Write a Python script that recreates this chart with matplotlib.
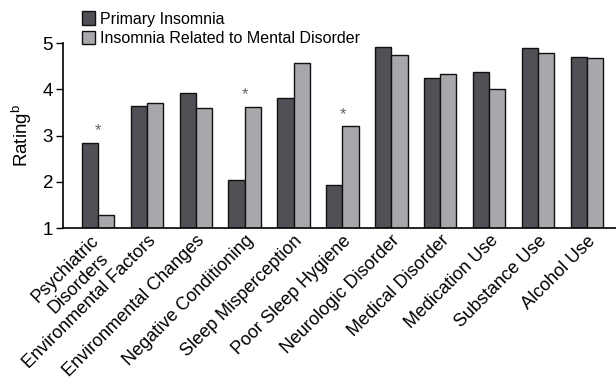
import numpy as np
import matplotlib.pyplot as plt
import matplotlib.transforms as mtransforms

plt.rcParams['font.family'] = ['Liberation Sans', 'DejaVu Sans']

categories = ['Psychiatric\nDisorders', 'Environmental Factors', 'Environmental Changes',
              'Negative Conditioning', 'Sleep Misperception', 'Poor Sleep Hygiene',
              'Neurologic Disorder', 'Medical Disorder', 'Medication Use',
              'Substance Use', 'Alcohol Use']
primary = [2.85, 3.64, 3.91, 2.04, 3.81, 1.93, 4.91, 4.25, 4.38, 4.89, 4.70]
mental = [1.28, 3.70, 3.59, 3.62, 4.57, 3.20, 4.75, 4.34, 4.01, 4.79, 4.68]
# groups with a significant difference
starred = [0, 3, 5]

x = np.arange(len(categories))
w = 0.33

fig = plt.figure(figsize=(6.16, 3.79), dpi=100)
ax = fig.add_axes([0.102, 0.398, 0.898, 0.4885])

b1 = ax.bar(x - w/2, primary, w, color='#505156', edgecolor='#111111',
            linewidth=1, label='Primary Insomnia')
b2 = ax.bar(x + w/2, mental, w, color='#a7a8ac', edgecolor='#111111',
            linewidth=1, label='Insomnia Related to Mental Disorder')

for i in starred:
    top = max(primary[i], mental[i])
    ax.text(x[i], top + 0.1, '*', ha='center', va='bottom', fontsize=12, color='#666666')

ax.set_ylim(1, 5)
ax.set_xlim(-0.716, 10.59)
ax.set_yticks([1, 2, 3, 4, 5])
ax.tick_params(axis='y', labelsize=13.5, length=5, width=1, direction='out', pad=2)
ax.tick_params(axis='x', length=0, pad=3)
ax.set_xticks(x)
ax.set_xticklabels(categories, rotation=45, ha='right', va='top',
                   rotation_mode='anchor', fontsize=13, multialignment='center')
# the two-line label sits a bit left of its bars
first = ax.get_xticklabels()[0]
first.set_transform(first.get_transform() +
                    mtransforms.ScaledTranslation(-0.08, 0, fig.dpi_scale_trans))
ax.set_ylabel('Rating$^{\\mathregular{b}}$', fontsize=13.5, labelpad=6)

for s in ['top', 'right']:
    ax.spines[s].set_visible(False)
for s in ['left', 'bottom']:
    ax.spines[s].set_linewidth(1.2)

fig.legend(handles=[b1, b2], loc='upper left', bbox_to_anchor=(0.118, 0.995),
           frameon=False, fontsize=11.5, handlelength=0.8, handleheight=0.9,
           handletextpad=0.3, labelspacing=0.25, borderaxespad=0.2)

fig.savefig('out.png', dpi=100)
